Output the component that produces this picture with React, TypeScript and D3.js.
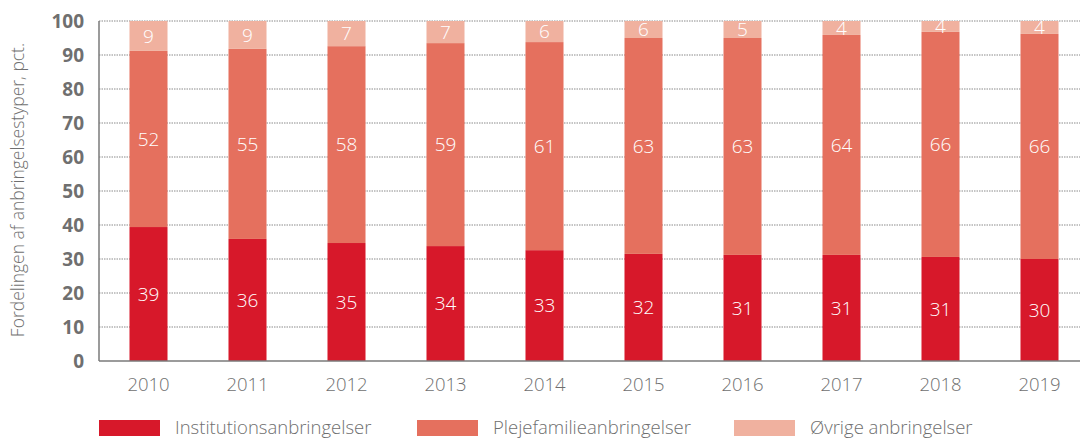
import React from "react";
import * as d3 from "d3";

const years = ["2010", "2011", "2012", "2013", "2014", "2015", "2016", "2017", "2018", "2019"];
const institution = [39.4, 35.9, 34.7, 33.8, 32.6, 31.5, 31.2, 31.2, 30.6, 30.0];
const plejefamilie = [51.8, 55.9, 57.9, 59.7, 61.2, 63.5, 63.8, 64.7, 66.2, 66.2];
const ovrige = [8.8, 8.2, 7.4, 6.5, 6.2, 5.0, 5.0, 4.1, 3.2, 3.8];
const labelsInst = [39, 36, 35, 34, 33, 32, 31, 31, 31, 30];
const labelsPleje = [52, 55, 58, 59, 61, 63, 63, 64, 66, 66];
const labelsOvr = [9, 9, 7, 7, 6, 6, 5, 4, 4, 4];
const yTicks = [0, 10, 20, 30, 40, 50, 60, 70, 80, 90, 100];
const seriesNames = ["Institutionsanbringelser", "Plejefamilieanbringelser", "Øvrige anbringelser"];
const colors = ["#d7182a", "#e5705e", "#f0b19f"];

const W = 1080;
const H = 440;
const left = 99;
const top = 21;
const bottom = 361;
const font = "'Open Sans', sans-serif";
const gray = "#6f6f6f";

export default function App() {
  const x = d3.scaleBand<string>().domain(years).range([left, left + 990]).paddingInner(0.616).paddingOuter(0.308);
  const y = d3.scaleLinear().domain([0, 100]).range([bottom, top]);
  const rows = years.map((yr, i) => ({
    year: yr,
    inst: institution[i],
    pleje: plejefamilie[i],
    ovr: ovrige[i],
  }));
  const stack = d3.stack<any>().keys(["inst", "pleje", "ovr"]);
  const series = stack(rows);
  const labels = [labelsInst, labelsPleje, labelsOvr];

  const legendX = [99, 417, 734];

  return (
    <svg width={W} height={H} style={{ position: "absolute", left: 0, top: 0, background: "#fff" }}>
      {yTicks.filter((t) => t > 0).map((t) => (
        <line key={t} x1={left} x2={W} y1={y(t)} y2={y(t)} stroke="#8a8a8a" strokeWidth={1} strokeDasharray="1.5,1" />
      ))}
      {series.map((s, si) =>
        s.map((d, i) => (
          <rect
            key={si + "-" + i}
            x={x(years[i])}
            width={x.bandwidth()}
            y={y(Math.min(d[1], 100))}
            height={y(d[0]) - y(Math.min(d[1], 100))}
            fill={colors[si]}
          />
        ))
      )}
      {series.map((s, si) =>
        s.map((d, i) => (
          <text
            key={"l" + si + "-" + i}
            x={(x(years[i]) as number) + x.bandwidth() / 2}
            y={(y(d[0]) + y(Math.min(d[1], 100))) / 2}
            dy="0.35em"
            textAnchor="middle"
            fill="#fff"
            fontFamily={font}
            fontWeight={300}
            fontSize={19}
          >
            {labels[si][i]}
          </text>
        ))
      )}
      <line x1={left} x2={left} y1={top} y2={bottom} stroke="#7a7a7a" strokeWidth={1.5} />
      <line x1={left} x2={W} y1={bottom} y2={bottom} stroke="#7a7a7a" strokeWidth={1.5} />
      {yTicks.map((t) => (
        <text key={"t" + t} x={84} y={y(t)} dy="0.36em" textAnchor="end" fill={gray} fontFamily={font} fontWeight={700} fontSize={19}>
          {t}
        </text>
      ))}
      {years.map((yr) => (
        <text
          key={"x" + yr}
          x={(x(yr) as number) + x.bandwidth() / 2}
          y={391}
          textAnchor="middle"
          fill={gray}
          fontFamily={font}
          fontWeight={300}
          fontSize={18.5}
        >
          {yr}
        </text>
      ))}
      <text
        transform={`translate(24,190) rotate(-90)`}
        textAnchor="middle"
        fill={gray}
        fontFamily={font}
        fontWeight={300}
        fontSize={17.5}
      >
        Fordelingen af anbringelsestyper, pct.
      </text>
      {seriesNames.map((n, i) => (
        <g key={n}>
          <rect x={legendX[i]} y={420} width={61} height={16} fill={colors[i]} />
          <text x={legendX[i] + 76} y={434} fill={gray} fontFamily={font} fontWeight={300} fontSize={18.5}>
            {n}
          </text>
        </g>
      ))}
    </svg>
  );
}
